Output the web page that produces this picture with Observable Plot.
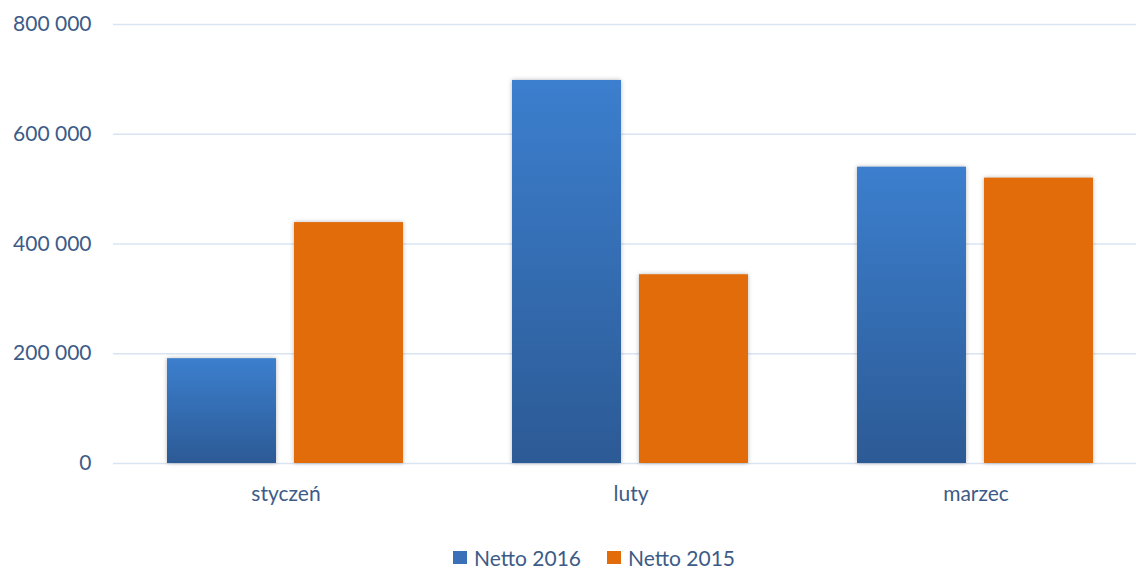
<!DOCTYPE html>
<html>
<head>
<meta charset="utf-8">
<script src="https://cdn.jsdelivr.net/npm/d3@7"></script>
<script src="https://cdn.jsdelivr.net/npm/@observablehq/plot@0.6"></script>
<style>
  html, body { margin: 0; padding: 0; background: #fff; }
  body { position: relative; width: 1136px; height: 570px; overflow: hidden; font-family: Lato, "Open Sans", sans-serif; }
  #chart svg { display: block; overflow: visible; }
  #chart svg g[aria-label="bar"] rect { filter: drop-shadow(0 0 2px rgba(0,0,0,0.28)); }
  #legend { position: absolute; left: 453px; top: 545px; display: flex; align-items: center; font-size: 21px; color: #3d5b87; }
  #legend .item { display: flex; align-items: center; }
  #legend .sw { width: 14px; height: 13px; margin-right: 7px; }
  #legend .item + .item { margin-left: 26px; }
</style>
</head>
<body>
<div id="chart"></div>
<div id="legend"></div>
<script>
const months = ["styczeń", "luty", "marzec"];
const seriesNames = ["Netto 2016", "Netto 2015"];
const netto2016 = [191000, 698000, 540000];
const netto2015 = [439000, 344000, 520000];
const yTicks = [0, 200000, 400000, 600000, 800000];
const seriesColors = ["url(#grad2016)", "#e36c0a"];
const legendColors = ["#3a70b8", "#e36c0a"];

const data = [];
months.forEach((m, i) => {
  data.push({month: m, series: seriesNames[0], value: netto2016[i]});
  data.push({month: m, series: seriesNames[1], value: netto2015[i]});
});

const textColor = "#3d5b87";
const fmt = d => d3.format(",")(d).replace(/,/g, "\u00a0");

const chart = Plot.plot({
  width: 1136,
  height: 520,
  marginLeft: 112,
  marginRight: 0,
  marginTop: 24,
  marginBottom: 57,
  style: { fontFamily: "Lato, 'Open Sans', sans-serif", fontSize: "21px", color: textColor, background: "transparent" },
  facet: { data, x: "month" },
  fx: { domain: months, range: [112.5, 1147.5], padding: 0, label: null, tickSize: 0, tickPadding: 23 },
  x: { domain: seriesNames, paddingInner: 0.1417, paddingOuter: 0.429, axis: null },
  y: { domain: [0, 800000], ticks: yTicks, tickFormat: fmt, tickSize: 0, tickPadding: 22, label: null, line: false },
  color: { domain: seriesNames, range: seriesColors },
  marks: [
    Plot.ruleY(yTicks, { stroke: "#d9e4f3", strokeWidth: 1.3 }),
    Plot.barY(data, { x: "series", y: "value", fill: "series" })
  ]
});

const svg = d3.select(chart);
const defs = svg.insert("defs", ":first-child");
const g = defs.append("linearGradient").attr("id", "grad2016")
  .attr("x1", 0).attr("y1", 0).attr("x2", 0).attr("y2", 1);
g.append("stop").attr("offset", "0%").attr("stop-color", "#3c7fce");
g.append("stop").attr("offset", "100%").attr("stop-color", "#2c5a95");

document.getElementById("chart").appendChild(chart);

const legend = d3.select("#legend");
seriesNames.forEach((s, i) => {
  const it = legend.append("div").attr("class", "item");
  it.append("div").attr("class", "sw").style("background", legendColors[i]);
  it.append("span").text(s);
});
</script>
</body>
</html>
